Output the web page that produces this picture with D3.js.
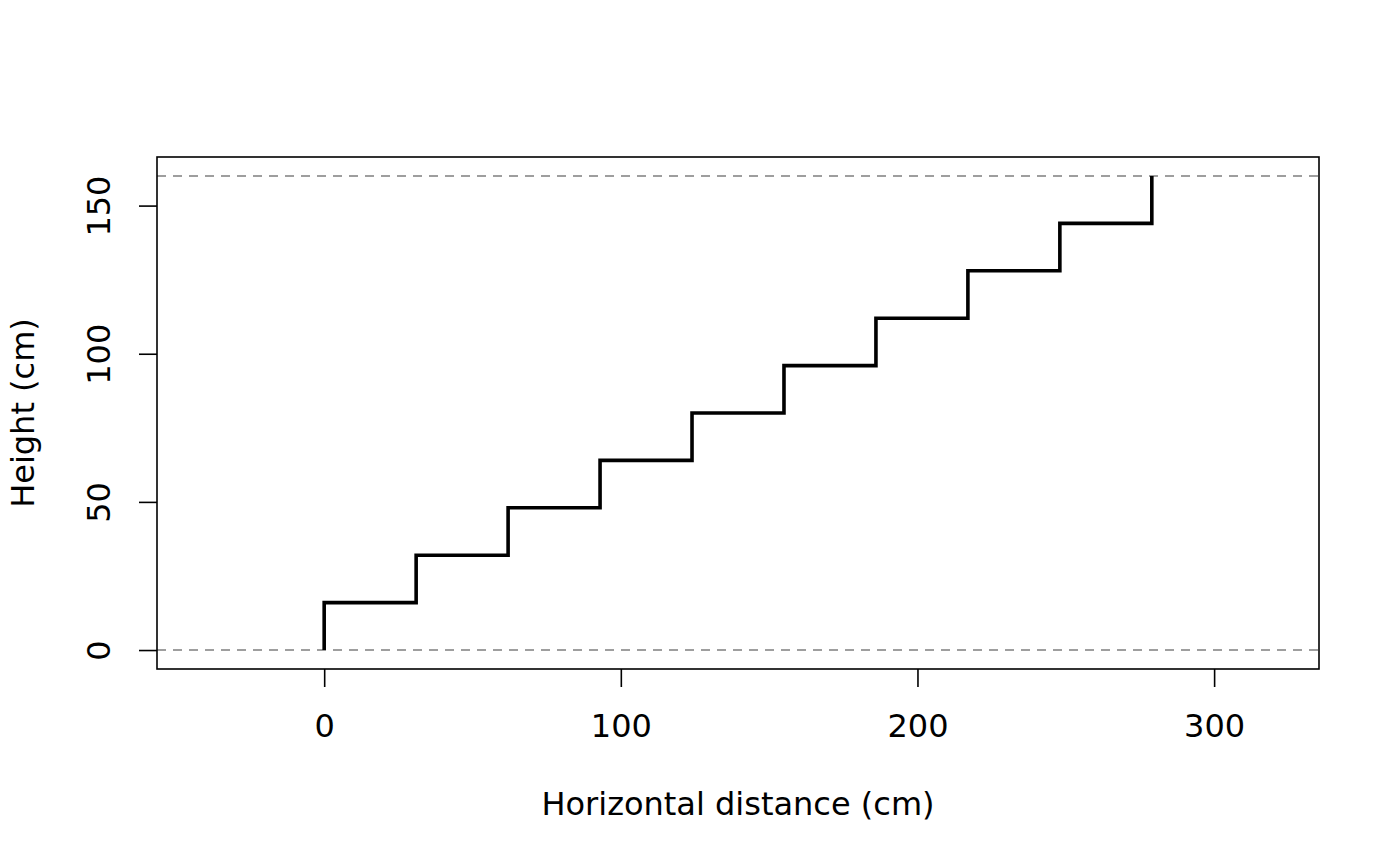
<!DOCTYPE html>
<html>
<head>
<meta charset="utf-8">
<script src="https://cdn.jsdelivr.net/npm/d3@7"></script>
<style>
  body { margin: 0; background: #fff; }
  text { font-family: "DejaVu Sans", sans-serif; fill: #000; }
</style>
</head>
<body>
<div id="chart"></div>
<script>
// stair profile: corner points of the step line
var stepX = [0, 0, 31, 31, 62, 62, 93, 93, 124, 124, 155, 155, 186, 186, 217, 217, 248, 248, 279, 279];
var stepY = [0, 16, 16, 32, 32, 48, 48, 64, 64, 80, 80, 96, 96, 112, 112, 128, 128, 144, 144, 160];
var refLines = [0, 160];
var xTicks = [0, 100, 200, 300];
var yTicks = [0, 50, 100, 150];
var xDomain = [-41.85, 320.85];
var yDomain = [0, 160];

var width = 1400, height = 866;
var margin = { left: 157, right: 81, top: 157, bottom: 197 };
var pw = width - margin.left - margin.right;
var ph = height - margin.top - margin.bottom;
var fs = '32px';

// R style 4% padding on both axes
function pad(d) { var r = (d[1] - d[0]) * 0.04; return [d[0] - r, d[1] + r]; }

var x = d3.scaleLinear().domain(pad(xDomain)).range([0, pw]);
var y = d3.scaleLinear().domain(pad(yDomain)).range([ph, 0]);

var svg = d3.select('#chart').append('svg')
    .attr('width', width)
    .attr('height', height);

var g = svg.append('g')
    .attr('transform', 'translate(' + margin.left + ',' + margin.top + ')');

// dashed reference lines
g.selectAll('line.ref').data(refLines).enter()
    .append('line')
    .attr('class', 'ref')
    .attr('x1', 0).attr('x2', pw)
    .attr('y1', function(d) { return y(d); })
    .attr('y2', function(d) { return y(d); })
    .attr('stroke', '#7f7f7f')
    .attr('stroke-width', 1.6)
    .attr('stroke-dasharray', '9,7');

var pts = stepX.map(function(v, i) { return [v, stepY[i]]; });
var line = d3.line()
    .x(function(d) { return x(d[0]); })
    .y(function(d) { return y(d[1]); });

g.append('path')
    .datum(pts)
    .attr('d', line)
    .attr('fill', 'none')
    .attr('stroke', '#000')
    .attr('stroke-width', 3.6);

// plot box
g.append('rect')
    .attr('width', pw).attr('height', ph)
    .attr('fill', 'none')
    .attr('stroke', '#000')
    .attr('stroke-width', 1.6);

var xAxis = g.append('g')
    .attr('transform', 'translate(0,' + ph + ')')
    .call(d3.axisBottom(x).tickValues(xTicks).tickSize(18).tickPadding(27).tickFormat(d3.format('d')));

var yAxis = g.append('g')
    .call(d3.axisLeft(y).tickValues(yTicks).tickSize(18).tickPadding(8).tickFormat(d3.format('d')));

[xAxis, yAxis].forEach(function(a) {
  a.select('.domain').remove();
  a.selectAll('.tick line').attr('stroke', '#000').attr('stroke-width', 1.6);
  a.selectAll('.tick text').style('font-size', fs).attr('fill', '#000');
});

// rotate y tick labels like R's las=0
yAxis.selectAll('.tick text')
    .attr('x', null).attr('dy', null)
    .attr('text-anchor', 'middle')
    .attr('transform', 'translate(-47,0) rotate(-90)');

svg.append('text')
    .attr('x', margin.left + pw / 2)
    .attr('y', 815)
    .attr('text-anchor', 'middle')
    .style('font-size', fs)
    .text('Horizontal distance (cm)');

svg.append('text')
    .attr('transform', 'translate(34,' + (margin.top + ph / 2) + ') rotate(-90)')
    .attr('text-anchor', 'middle')
    .style('font-size', fs)
    .text('Height (cm)');
</script>
</body>
</html>
